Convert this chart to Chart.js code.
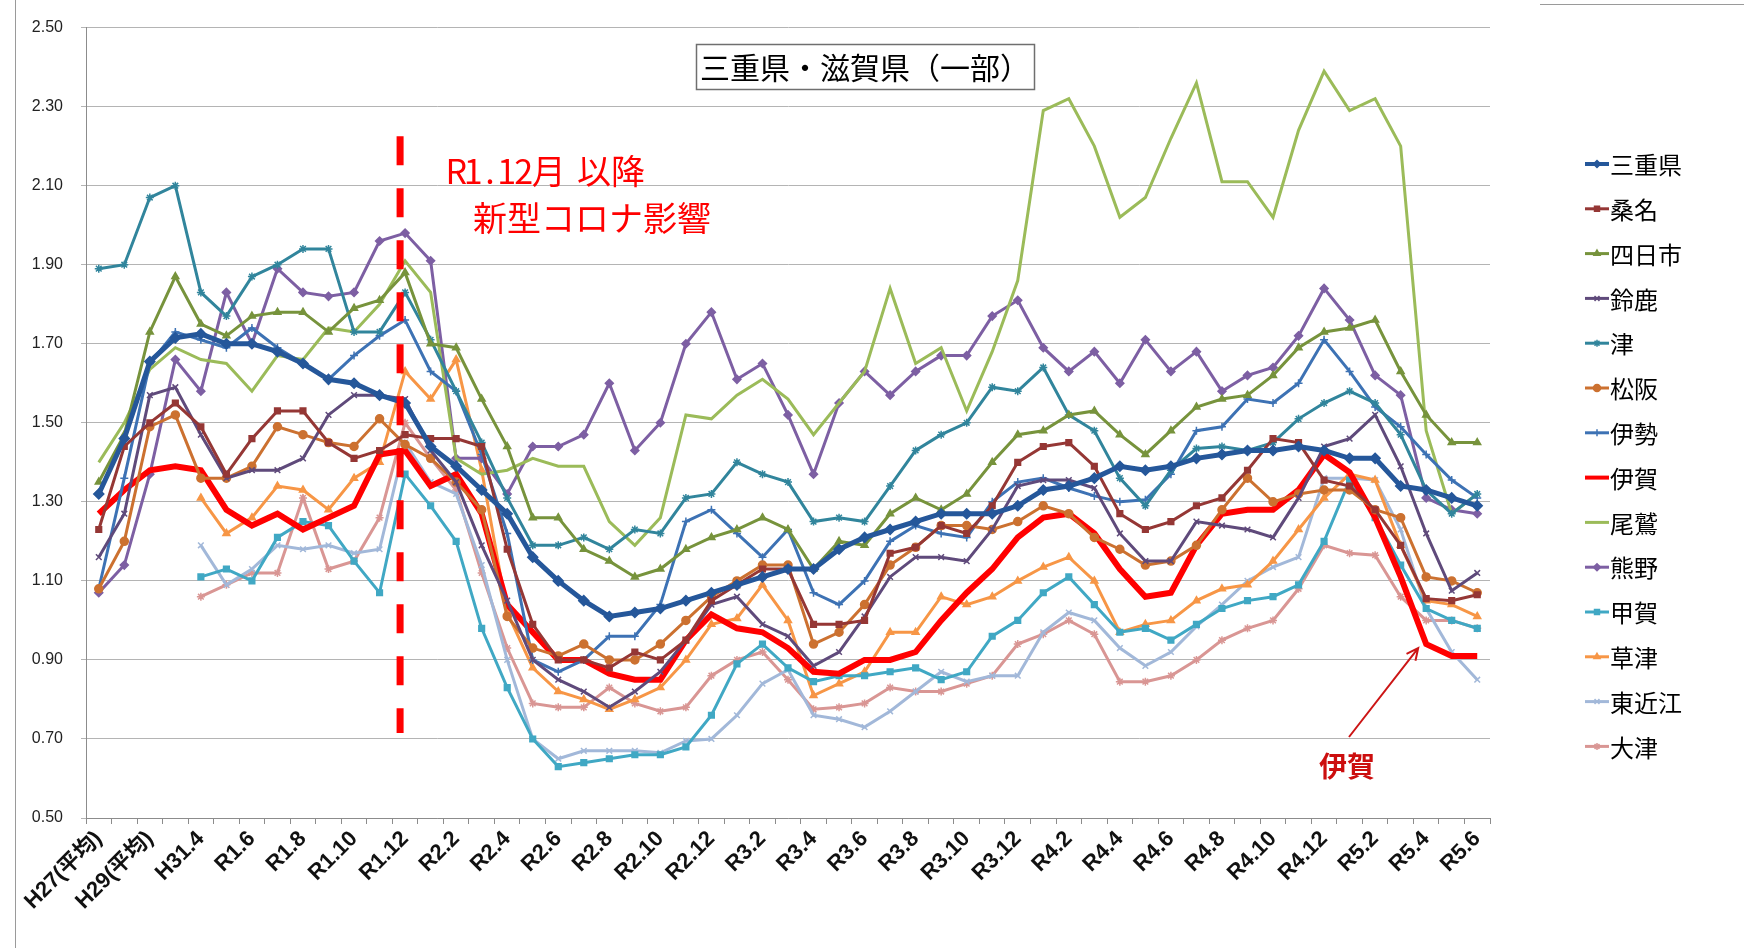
<!DOCTYPE html>
<html lang="ja">
<head>
<meta charset="utf-8">
<title>三重県・滋賀県（一部）</title>
<script src="https://cdn.jsdelivr.net/npm/chart.js@4.4.0/dist/chart.umd.min.js"></script>
<style>
  html, body { margin: 0; padding: 0; background: #ffffff; }
  #cadre { position: relative; width: 1744px; height: 948px; }
</style>
</head>
<body>
<div id="cadre"><canvas id="graphique" width="1744" height="948"></canvas></div>
<script>
// ==========================================================
// DONNEES
// ==========================================================
const categories = [
    "H27(平均)", "H28(平均)", "H29(平均)", "H30(平均)", "H31.4",
    "R1.5", "R1.6", "R1.7", "R1.8", "R1.9", "R1.10", "R1.11", "R1.12",
    "R2.1", "R2.2", "R2.3", "R2.4", "R2.5", "R2.6", "R2.7", "R2.8", "R2.9", "R2.10", "R2.11", "R2.12",
    "R3.1", "R3.2", "R3.3", "R3.4", "R3.5", "R3.6", "R3.7", "R3.8", "R3.9", "R3.10", "R3.11", "R3.12",
    "R4.1", "R4.2", "R4.3", "R4.4", "R4.5", "R4.6", "R4.7", "R4.8", "R4.9", "R4.10", "R4.11", "R4.12",
    "R5.1", "R5.2", "R5.3", "R5.4", "R5.5", "R5.6"
];

const valeursMie = [1.32,1.46,1.655,1.715,1.725,1.70,1.70,1.68,1.65,1.61, 1.60,1.57,1.55,1.44,1.39,1.33,1.27,1.16,1.10,1.05, 1.01,1.02,1.03,1.05,1.07,1.09,1.11,1.13,1.13,1.18, 1.21,1.23,1.25,1.27,1.27,1.27,1.29,1.33,1.34,1.36, 1.39,1.38,1.39,1.41,1.42,1.43,1.43,1.44,1.43,1.41, 1.41,1.34,1.33,1.31,1.29];
const valeursKuwana = [1.23,1.44,1.50,1.55,1.49,1.37,1.46,1.53,1.53,1.45, 1.41,1.43,1.47,1.46,1.46,1.44,1.18,0.99,0.90,0.90, 0.88,0.92,0.90,0.95,1.05,1.09,1.13,1.13,0.99,0.99, 1.00,1.17,1.185,1.24,1.22,1.29,1.40,1.44,1.45,1.39, 1.27,1.23,1.25,1.29,1.31,1.38,1.46,1.45,1.355,1.34, 1.28,1.19,1.055,1.05,1.065];
const valeursYokkaichi = [1.35,1.47,1.73,1.87,1.75,1.72,1.77,1.78,1.78,1.73, 1.79,1.81,1.88,1.70,1.69,1.56,1.44,1.26,1.26,1.18, 1.15,1.11,1.13,1.18,1.21,1.23,1.26,1.23,1.13,1.20, 1.19,1.27,1.31,1.28,1.32,1.40,1.47,1.48,1.52,1.53, 1.47,1.42,1.48,1.54,1.56,1.57,1.62,1.69,1.73,1.74, 1.76,1.63,1.52,1.45,1.45];
const valeursSuzuka = [1.16,1.27,1.57,1.59,1.47,1.36,1.38,1.38,1.41,1.52, 1.57,1.57,1.56,1.43,1.35,1.19,1.05,0.90,0.85,0.82, 0.78,0.82,0.87,0.95,1.04,1.06,0.99,0.96,0.885,0.92, 1.01,1.11,1.16,1.16,1.15,1.23,1.34,1.355,1.355,1.335, 1.22,1.15,1.15,1.25,1.24,1.23,1.21,1.31,1.44,1.46, 1.52,1.39,1.22,1.075,1.12];
const valeursTsu = [1.89,1.90,2.07,2.10,1.83,1.77,1.87,1.90,1.94,1.94, 1.73,1.73,1.83,1.71,1.58,1.45,1.31,1.19,1.19,1.21, 1.18,1.23,1.22,1.31,1.32,1.40,1.37,1.35,1.25,1.26, 1.25,1.34,1.43,1.47,1.50,1.59,1.58,1.64,1.52,1.48, 1.36,1.29,1.38,1.435,1.44,1.43,1.45,1.51,1.55,1.58, 1.55,1.47,1.33,1.27,1.32];
const valeursMatsusaka = [1.08,1.20,1.49,1.52,1.36,1.36,1.39,1.49,1.47,1.45, 1.44,1.51,1.445,1.41,1.35,1.28,1.01,0.93,0.91,0.94, 0.90,0.90,0.94,1.00,1.06,1.10,1.14,1.14,0.94,0.97, 1.04,1.14,1.185,1.24,1.24,1.23,1.25,1.29,1.27,1.21, 1.18,1.14,1.15,1.19,1.28,1.36,1.30,1.32,1.33,1.33, 1.28,1.26,1.11,1.10,1.07];
const valeursIse = [1.08,1.36,1.65,1.73,1.71,1.69,1.74,1.69,1.65,1.61, 1.67,1.72,1.76,1.63,1.58,1.42,1.22,0.90,0.87,0.90, 0.96,0.96,1.04,1.25,1.28,1.22,1.16,1.23,1.07,1.04, 1.10,1.20,1.24,1.22,1.21,1.30,1.35,1.36,1.335,1.315, 1.30,1.305,1.37,1.48,1.49,1.56,1.55,1.60,1.71,1.63, 1.54,1.49,1.42,1.355,1.31];
const valeursIga = [1.27,1.33,1.38,1.39,1.38,1.28,1.24,1.27,1.23,1.26, 1.29,1.42,1.43,1.34,1.37,1.27,1.04,0.97,0.90,0.90, 0.865,0.85,0.85,0.95,1.015,0.98,0.97,0.93,0.87,0.865, 0.90,0.90,0.92,1.00,1.07,1.13,1.21,1.26,1.27,1.22, 1.13,1.06,1.07,1.19,1.27,1.28,1.28,1.33,1.42,1.375, 1.26,1.11,0.94,0.91,0.91];
const valeursOwase = [1.40,1.50,1.635,1.69,1.66,1.65,1.58,1.67,1.66,1.74, 1.73,1.80,1.91,1.83,1.41,1.37,1.38,1.41,1.39,1.39, 1.25,1.19,1.26,1.52,1.51,1.57,1.61,1.56,1.47,1.55, 1.63,1.84,1.65,1.69,1.53,1.68,1.86,2.29,2.32,2.20, 2.02,2.07,2.22,2.36,2.11,2.11,2.02,2.24,2.39,2.29, 2.32,2.20,1.48,1.27,1.32];
const valeursKumano = [1.07,1.14,1.37,1.66,1.58,1.83,1.70,1.89,1.83,1.82, 1.83,1.96,1.98,1.91,1.41,1.41,1.32,1.44,1.44,1.47, 1.60,1.43,1.50,1.70,1.78,1.61,1.65,1.52,1.37,1.55, 1.63,1.57,1.63,1.67,1.67,1.77,1.81,1.69,1.63,1.68, 1.60,1.71,1.63,1.68,1.58,1.62,1.64,1.72,1.84,1.76, 1.62,1.57,1.31,1.28,1.27];
const valeursKoka = [null,null,null,null,1.11,1.13,1.10,1.21,1.25,1.24, 1.15,1.07,1.37,1.29,1.20,0.98,0.83,0.70,0.63,0.64, 0.65,0.66,0.66,0.68,0.76,0.89,0.94,0.88,0.845,0.86, 0.86,0.87,0.88,0.85,0.87,0.96,1.00,1.07,1.11,1.04, 0.97,0.98,0.95,0.99,1.03,1.05,1.06,1.09,1.20,1.355, 1.26,1.14,1.03,1.00,0.98];
const valeursKusatsu = [null,null,null,null,1.31,1.22,1.26,1.34,1.33,1.28, 1.36,1.40,1.63,1.56,1.66,1.38,1.02,0.88,0.82,0.80, 0.775,0.80,0.83,0.90,0.99,1.005,1.09,1.00,0.81,0.84, 0.87,0.97,0.97,1.06,1.04,1.06,1.10,1.135,1.16,1.10, 0.97,0.99,1.00,1.05,1.08,1.09,1.15,1.23,1.31,1.37, 1.355,1.19,1.05,1.04,1.01];
const valeursHigashiomi = [null,null,null,null,1.19,1.09,1.13,1.19,1.18,1.19, 1.17,1.18,1.45,1.35,1.32,1.14,0.90,0.70,0.65,0.67, 0.67,0.67,0.665,0.695,0.70,0.76,0.84,0.875,0.76,0.75, 0.73,0.77,0.82,0.87,0.845,0.86,0.86,0.97,1.02,1.00, 0.93,0.885,0.92,0.985,1.04,1.10,1.135,1.16,1.36,1.36, 1.355,1.23,1.03,0.92,0.85];
const valeursOtsu = [null,null,null,null,1.06,1.09,1.12,1.12,1.31,1.13, 1.15,1.26,1.50,1.41,1.33,1.12,0.93,0.79,0.78,0.78, 0.83,0.79,0.77,0.78,0.86,0.90,0.92,0.85,0.775,0.78, 0.79,0.83,0.82,0.82,0.84,0.86,0.94,0.965,1.00,0.965, 0.845,0.845,0.86,0.90,0.95,0.98,1.00,1.08,1.19,1.17, 1.165,1.06,1.00,1.00,0.98];

// ==========================================================
// SERIES (nom, valeurs, style)
// ==========================================================
const series = [
    { nom: "三重県", valeurs: valeursMie,        couleur: "#25579a", epaisseur: 5, marqueur: "rectRot",  rayon: 5 },
    { nom: "桑名",   valeurs: valeursKuwana,     couleur: "#953735", epaisseur: 3, marqueur: "rect",     rayon: 4 },
    { nom: "四日市", valeurs: valeursYokkaichi,  couleur: "#77933c", epaisseur: 3, marqueur: "triangle", rayon: 4 },
    { nom: "鈴鹿",   valeurs: valeursSuzuka,     couleur: "#5f4a7b", epaisseur: 3, marqueur: "crossRot", rayon: 4 },
    { nom: "津",     valeurs: valeursTsu,        couleur: "#31859c", epaisseur: 3, marqueur: "star",     rayon: 4 },
    { nom: "松阪",   valeurs: valeursMatsusaka,  couleur: "#cc7130", epaisseur: 3, marqueur: "circle",   rayon: 4 },
    { nom: "伊勢",   valeurs: valeursIse,        couleur: "#3d72b4", epaisseur: 3, marqueur: "cross",    rayon: 4 },
    { nom: "伊賀",   valeurs: valeursIga,        couleur: "#ff0000", epaisseur: 6, marqueur: false,      rayon: 0 },
    { nom: "尾鷲",   valeurs: valeursOwase,      couleur: "#9bbb59", epaisseur: 3, marqueur: false,      rayon: 0 },
    { nom: "熊野",   valeurs: valeursKumano,     couleur: "#7d5fa3", epaisseur: 3, marqueur: "rectRot",  rayon: 4 },
    { nom: "甲賀",   valeurs: valeursKoka,       couleur: "#40a8c4", epaisseur: 3, marqueur: "rect",     rayon: 4 },
    { nom: "草津",   valeurs: valeursKusatsu,    couleur: "#f79646", epaisseur: 3, marqueur: "triangle", rayon: 4 },
    { nom: "東近江", valeurs: valeursHigashiomi, couleur: "#a2b8d9", epaisseur: 3, marqueur: "crossRot", rayon: 4 },
    { nom: "大津",   valeurs: valeursOtsu,       couleur: "#d99694", epaisseur: 3, marqueur: "star",     rayon: 4 }
];

const policeCJK = '"Noto Sans CJK JP", "Noto Sans", sans-serif';

// ==========================================================
// PLUGINS DE DESSIN (cadre, titre, annotations, legende)
// ==========================================================
const pluginFond = {
    id: 'fond',
    beforeDraw(chart) {
        const ctx = chart.ctx;
        ctx.save();
        ctx.fillStyle = '#ffffff';
        ctx.fillRect(0, 0, chart.width, chart.height);
        ctx.strokeStyle = '#9a9a9a';
        ctx.lineWidth = 1;
        ctx.beginPath();
        ctx.moveTo(15.5, 0);
        ctx.lineTo(15.5, chart.height);
        ctx.moveTo(1540, 4.5);
        ctx.lineTo(chart.width, 4.5);
        ctx.stroke();
        ctx.restore();
    }
};

// Texte a chasse fixe (demi-largeur pour les caracteres latins)
function texteMonospace(ctx, texte, xDepart, yTexte, pas) {
    let xc = xDepart;
    for (const car of texte) {
        const large = car.charCodeAt(0) > 0xff;
        const largeur = large ? pas * 2 : pas;
        ctx.textAlign = 'center';
        ctx.fillText(car, xc + largeur / 2, yTexte);
        xc += largeur;
    }
}

const pluginAnnotations = {
    id: 'annotations',
    afterDatasetsDraw(chart) {
        const ctx = chart.ctx;
        const x = chart.scales.x;
        const y = chart.scales.y;
        ctx.save();

        // Ligne pointillee rouge a R1.12
        const xCovid = x.getPixelForValue(12) - 5;
        ctx.strokeStyle = '#ff0000';
        ctx.lineWidth = 7;
        ctx.setLineDash([29, 23]);
        ctx.beginPath();
        ctx.moveTo(xCovid, y.getPixelForValue(2.225));
        ctx.lineTo(xCovid, y.getPixelForValue(0.715));
        ctx.stroke();
        ctx.setLineDash([]);

        // Texte rouge
        ctx.fillStyle = '#ff0000';
        ctx.font = '34px ' + policeCJK;
        ctx.textBaseline = 'middle';
        texteMonospace(ctx, 'R1.12月', 448, 171, 16.8);
        ctx.textAlign = 'left';
        ctx.fillText('以降', 577, 171);
        ctx.fillText('新型コロナ影響', 473, 218);

        // Etiquette 伊賀 avec fleche
        ctx.fillStyle = '#cc0e0e';
        ctx.font = 'bold 28px ' + policeCJK;
        ctx.textAlign = 'left';
        ctx.fillText('伊賀', 1319, 766);

        const xPointe = x.getPixelForValue(52) - 8;
        const yPointe = y.getPixelForValue(valeursIga[52]) + 4;
        const xDepart = 1349, yDepart = 737;
        const angle = Math.atan2(yPointe - yDepart, xPointe - xDepart);
        ctx.strokeStyle = '#cc1515';
        ctx.lineWidth = 2;
        ctx.beginPath();
        ctx.moveTo(xDepart, yDepart);
        ctx.lineTo(xPointe, yPointe);
        ctx.moveTo(xPointe - 13 * Math.cos(angle - 0.45), yPointe - 13 * Math.sin(angle - 0.45));
        ctx.lineTo(xPointe, yPointe);
        ctx.lineTo(xPointe - 13 * Math.cos(angle + 0.45), yPointe - 13 * Math.sin(angle + 0.45));
        ctx.stroke();

        // Titre encadre
        ctx.fillStyle = '#ffffff';
        ctx.fillRect(696, 44, 338, 45);
        ctx.strokeStyle = '#6f6f6f';
        ctx.lineWidth = 1.5;
        ctx.strokeRect(696.5, 44.5, 338, 45);
        ctx.fillStyle = '#000000';
        ctx.font = '30px ' + policeCJK;
        ctx.textAlign = 'center';
        ctx.fillText('三重県・滋賀県（一部）', 865, 68);
        ctx.restore();
    }
};

const pluginLegende = {
    id: 'legendeManuelle',
    afterDraw(chart) {
        const ctx = chart.ctx;
        ctx.save();
        chart.data.datasets.forEach((ds, i) => {
            const yLigne = 164 + i * 44.8;
            ctx.strokeStyle = ds.borderColor;
            ctx.lineWidth = Math.min(ds.borderWidth, 4);
            ctx.beginPath();
            ctx.moveTo(1585, yLigne);
            ctx.lineTo(1609, yLigne);
            ctx.stroke();
            if (ds.pointStyle) {
                ctx.fillStyle = ds.borderColor;
                ctx.lineWidth = 1.5;
                Chart.helpers.drawPoint(ctx, {
                    pointStyle: ds.pointStyle, radius: 3.5, rotation: 0, borderWidth: 1.5
                }, 1597, yLigne);
            }
            ctx.fillStyle = '#000000';
            ctx.font = '24px ' + policeCJK;
            ctx.textAlign = 'left';
            ctx.textBaseline = 'middle';
            ctx.fillText(ds.label, 1610, yLigne + 1);
        });
        ctx.restore();
    }
};

// ==========================================================
// CONSTRUCTION DU GRAPHIQUE
// ==========================================================
const jeuxDeDonnees = series.map(s => ({
    label: s.nom,
    data: s.valeurs,
    borderColor: s.couleur,
    backgroundColor: s.couleur,
    borderWidth: s.epaisseur,
    pointStyle: s.marqueur,
    pointRadius: s.rayon,
    pointBorderWidth: 1.5,
    pointBackgroundColor: s.couleur,
    pointBorderColor: s.couleur,
    tension: 0,
    fill: false,
    spanGaps: false
}));

new Chart(document.getElementById('graphique'), {
    type: 'line',
    data: { labels: categories, datasets: jeuxDeDonnees },
    options: {
        responsive: false,
        animation: false,
        devicePixelRatio: 1,
        layout: { padding: { top: 27, right: 254, bottom: 0, left: 0 } },
        plugins: {
            legend: { display: false },
            tooltip: { enabled: false },
            title: { display: false }
        },
        scales: {
            x: {
                offset: true,
                grid: {
                    display: true,
                    drawOnChartArea: false,
                    drawTicks: true,
                    tickLength: 6,
                    offset: true,
                    color: '#8c8c8c'
                },
                border: { display: true, color: '#8c8c8c' },
                ticks: {
                    autoSkip: false,
                    minRotation: 45,
                    maxRotation: 45,
                    padding: 2,
                    color: '#111111',
                    font: { family: '"Liberation Sans", ' + policeCJK, size: 22, weight: 'bold' },
                    callback: function (valeur, index) {
                        return index % 2 === 0 ? this.getLabelForValue(valeur) : '';
                    }
                },
                afterFit: (echelle) => { echelle.height = 130; }
            },
            y: {
                min: 0.5,
                max: 2.5,
                grid: { color: '#b4b4b4', tickLength: 5, drawTicks: true },
                border: { display: true, color: '#8c8c8c' },
                ticks: {
                    stepSize: 0.2,
                    padding: 18,
                    color: '#222222',
                    font: { family: '"Liberation Sans", sans-serif', size: 16 },
                    callback: (valeur) => Number(valeur).toFixed(2)
                },
                afterFit: (echelle) => { echelle.width = 86; }
            }
        }
    },
    plugins: [pluginFond, pluginAnnotations, pluginLegende]
});
</script>
</body>
</html>
